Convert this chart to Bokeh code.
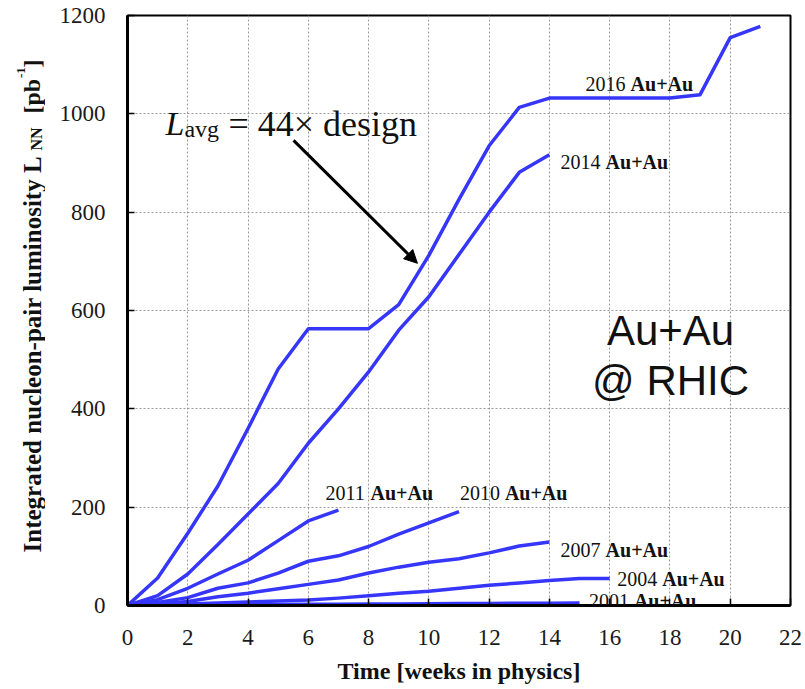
from math import pi
from bokeh.plotting import figure
from bokeh.layouts import row
from bokeh.models import Label, Arrow, NormalHead, FixedTicker, Range1d
from bokeh.core.properties import value
from bokeh.embed import file_html
from bokeh.resources import INLINE

# ---- data (weeks in physics, integrated luminosity pb^-1) ----
weeks = [0, 1, 2, 3, 4, 5, 6, 7, 8, 9, 10, 11, 12, 13, 14, 15, 16, 17, 18, 19, 20, 21]
lum_2016 = [0, 56, 147, 243, 360, 481, 563, 563, 563, 612, 712, 826, 935, 1013, 1032,
            1032, 1032, 1032, 1032, 1039, 1155, 1178]
lum_2014 = [0, 20, 64, 124, 186, 248, 330, 400, 475, 560, 628, 714, 800, 881, 917]
lum_2011 = [0, 12, 35, 64, 92, 132, 172, 194]
lum_2010 = [0, 6, 16, 35, 46, 66, 90, 101, 120, 145, 168, 191]
lum_2007 = [0, 3, 8, 18, 25, 34, 43, 52, 66, 78, 88, 95, 107, 121, 129]
lum_2004 = [0, 1, 3, 5, 7, 9, 11, 15, 20, 25, 29, 35, 41, 46, 51, 55, 55]
lum_2001 = [0, 0.5, 1, 1.3, 1.6, 2, 2.3, 2.6, 3, 3.3, 3.6, 3.9, 4.2, 4.5, 4.8, 5]

series = [lum_2016, lum_2014, lum_2011, lum_2010, lum_2007, lum_2004, lum_2001]
years = ["2016", "2014", "2011", "2010", "2007", "2004", "2001"]
species = "Au+Au"
x_ticks = [0, 2, 4, 6, 8, 10, 12, 14, 16, 18, 20, 22]
y_ticks = [0, 200, 400, 600, 800, 1000, 1200]
x_title = "Time [weeks in physics]"
y_title_parts = ["Integrated nucleon-pair luminosity L", "NN", "[pb", "-1", "]"]

SERIF = "Liberation Serif"
SANS = "Liberation Sans"
BLUE = "#3636FA"
H = 688
TOP, BOTTOM = 15, 83

# ---------------- main plot ----------------
p = figure(width=759, height=H, output_backend="svg", toolbar_location=None,
           x_range=Range1d(0, 22), y_range=Range1d(0, 1200),
           min_border_left=82, min_border_right=14, min_border_top=TOP, min_border_bottom=BOTTOM)
p.background_fill_color = "white"
p.outline_line_color = "black"
p.outline_line_width = 2

for ax, ticks in ((p.xaxis, x_ticks), (p.yaxis, y_ticks)):
    ax.ticker = FixedTicker(ticks=ticks)
    ax.axis_line_width = 3
    ax.axis_line_color = "black"
    ax.major_tick_in = 7
    ax.major_tick_out = 0
    ax.major_tick_line_width = 1.5
    ax.major_tick_line_color = "black"
    ax.minor_tick_line_color = None
    ax.major_label_text_font = SERIF
    ax.major_label_text_font_size = "23px"
    ax.major_label_text_color = "#1a1a1a"

p.xaxis.major_label_standoff = 24
p.yaxis.major_label_standoff = 22
p.xaxis.axis_label = x_title
p.xaxis.axis_label_text_font = SERIF
p.xaxis.axis_label_text_font_size = "24px"
p.xaxis.axis_label_text_font_style = "bold"
p.xaxis.axis_label_text_color = "#111111"
p.xaxis.axis_label_standoff = 10

for g in (p.xgrid, p.ygrid):
    g.grid_line_color = "#9a9a9a"
    g.grid_line_dash = "2 2"
    g.grid_line_width = 1
p.xgrid.ticker = FixedTicker(ticks=x_ticks)
p.ygrid.ticker = FixedTicker(ticks=y_ticks)

for lum in series:
    p.line(weeks[:len(lum)], lum, line_color=BLUE, line_width=3.5, line_join="round")


def lab(x, y, text, size, style="normal", font=SERIF, xo=0, yo=0, align="left"):
    p.add_layout(Label(x=x, y=y, text=text, text_font=font, text_font_size=f"{size}px",
                       text_font_style=style, x_offset=xo, y_offset=yo,
                       text_align=align, text_baseline="alphabetic", text_color="#111111"))


# series labels: year (normal) + species (bold)
label_pos = [(15.2, 1060), (14.37, 902), (6.57, 229), (11.03, 229),
             (14.37, 113), (16.25, 54), (15.31, 10)]
for yr, (lx, ly) in zip(years, label_pos):
    lab(lx, ly, yr, 20)
    lab(lx, ly, species, 20, style="bold", xo=45)

# L_avg annotation
lab(1.26, 980, "L", 34, style="italic")
lab(1.26, 980, "avg", 24, xo=19, yo=-5)
lab(1.26, 980, "= 44\u00d7 design", 36, xo=63)
p.add_layout(Arrow(x_start=5.51, y_start=946, x_end=9.62, y_end=696, line_width=3,
                   line_color="black",
                   end=NormalHead(size=13, fill_color="black", line_color="black")))

# Au+Au @ RHIC
lab(18.02, 559, "Au+Au", 42, font=SANS, align="center")
lab(18.02, 458, "@ RHIC", 42, font=SANS, align="center")

# ---------------- y-axis title strip (rotated, with sub/superscripts) ----------------
# vertical units: pixels above the frame bottom (frame spans 590 px)
q = figure(width=45, height=H, output_backend="svg", toolbar_location=None,
           x_range=Range1d(0, 45), y_range=Range1d(0, H - TOP - BOTTOM),
           x_axis_type=None, y_axis_type=None,
           min_border_left=0, min_border_right=0, min_border_top=TOP, min_border_bottom=BOTTOM)
q.outline_line_color = None
q.xgrid.visible = False
q.ygrid.visible = False
q.background_fill_color = "white"
q.border_fill_color = "white"

yt_x = [31.5, 36, 31.5, 20.5, 31.5]
yt_y = [53, 455, 492, 527.5, 538]
yt_size = ["25px", "16px", "24px", "13px", "24px"]
for t, tx, ty, ts in zip(y_title_parts, yt_x, yt_y, yt_size):
    q.text(x=[tx], y=[ty], text=[t], angle=pi / 2, text_font=value(SERIF),
           text_font_size=ts, text_font_style="bold", text_align="left",
           text_baseline="alphabetic", text_color="#111111")

layout = row(q, p, spacing=0)
open("out.html", "w").write(file_html(layout, INLINE))
